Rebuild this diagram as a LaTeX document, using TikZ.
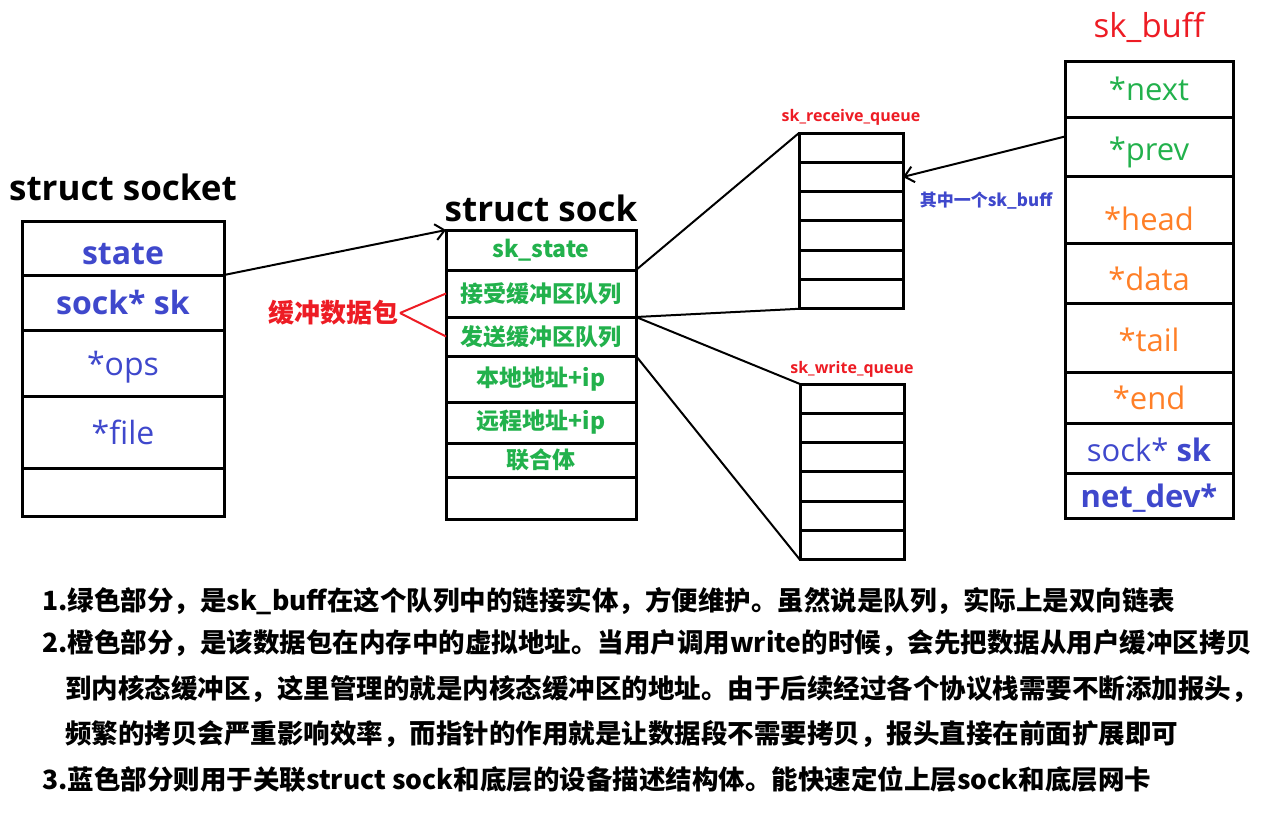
\documentclass[tikz,border=0pt]{standalone}
\usepackage{fontspec}
\setmainfont{Noto Sans CJK SC}
\newfontfamily\latinfont{Open Sans}
\usetikzlibrary{positioning, arrows.meta}
\definecolor{PaintBlue}{RGB}{63, 72, 204}
\definecolor{PaintGreen}{RGB}{34, 177, 76}
\definecolor{PaintOrange}{RGB}{255, 127, 39}
\definecolor{PaintRed}{RGB}{237, 28, 36}

\begin{document}
\begin{tikzpicture}[
    x=1pt, y=-1pt,
    % Global Styles
    cell/.style={
        rectangle,
        draw=black,
        line width=3pt,
        inner sep=0pt,
        outer sep=0pt,
        align=center
    },
    socketcell/.style={cell, minimum width=202pt, text=PaintBlue, text height=29pt, text depth=5pt, font=\latinfont\fontsize{32}{38}\selectfont},
    sockcell/.style={cell, minimum width=190pt, text=PaintGreen, font=\bfseries\fontsize{23}{28}\selectfont},
    queuecell/.style={cell, minimum width=104pt, minimum height=29.3pt},
    buffcell/.style={cell, minimum width=168pt, text height=28pt, text depth=5pt, font=\latinfont\fontsize{31}{36}\selectfont},
    sink/.style={text height=28pt+#1},
    title/.style={font=\latinfont\bfseries\fontsize{35}{40}\selectfont, inner sep=0pt},
    qlabel/.style={text=PaintRed, font=\latinfont\bfseries\fontsize{16}{19}\selectfont, inner sep=0pt},
    link/.style={-{Straight Barb[length=9pt, width=16pt]}, line width=2pt},
    wire/.style={line width=2pt},
    redwire/.style={line width=2pt, draw=PaintRed},
    note/.style={anchor=west, inner sep=0pt, font=\bfseries\fontsize{26.5}{30}\selectfont}
]
    \useasboundingbox (0,0) rectangle (1285,822);

    % --- struct socket ---
    \node[socketcell, minimum height=54pt, sink=10pt, anchor=north west] (state) at (22,221) {\bfseries state};
    \node[socketcell, minimum height=55pt, below=0pt of state] (socksk) {\bfseries sock* sk};
    \node[socketcell, minimum height=66pt, below=0pt of socksk] (ops) {*ops};
    \node[socketcell, minimum height=72pt, below=0pt of ops] (file) {*file};
    \node[socketcell, minimum height=48pt, below=0pt of file] (socketend) {};
    \node[title, above=20pt of state] (sockettitle) {struct socket};

    % --- struct sock ---
    \node[sockcell, minimum height=40pt, anchor=north west] (skstate) at (446,230) {sk\_state};
    \node[sockcell, minimum height=47pt, below=0pt of skstate] (recv) {接受缓冲区队列};
    \node[sockcell, minimum height=39pt, below=0pt of recv] (send) {发送缓冲区队列};
    \node[sockcell, minimum height=46pt, below=0pt of send] (local) {本地地址+ip};
    \node[sockcell, minimum height=41pt, below=0pt of local] (remote) {远程地址+ip};
    \node[sockcell, minimum height=34pt, below=0pt of remote] (union) {联合体};
    \node[sockcell, minimum height=42pt, below=0pt of union] (sockend) {};
    \node[title, above=8pt of skstate] (socktitle) {struct sock};

    % --- queues ---
    \node[queuecell, anchor=north west] (rq1) at (799,133) {};
    \node[queuecell, anchor=north west] (wq1) at (800,384) {};
    \foreach \i/\j in {1/2, 2/3, 3/4, 4/5, 5/6} {
        \node[queuecell, below=0pt of rq\i] (rq\j) {};
        \node[queuecell, below=0pt of wq\i] (wq\j) {};
    }
    \node[qlabel, above=7pt of rq1] (rqlabel) {sk\_receive\_queue};
    \node[qlabel, above=6pt of wq1] (wqlabel) {sk\_write\_queue};

    % --- sk_buff ---
    \node[buffcell, minimum height=56pt, text=PaintGreen, anchor=north west] (next) at (1065,61) {*next};
    \node[buffcell, minimum height=59pt, text=PaintGreen, sink=4pt, below=0pt of next] (prev) {*prev};
    \node[buffcell, minimum height=67pt, text=PaintOrange, sink=18pt, below=0pt of prev] (head) {*head};
    \node[buffcell, minimum height=60pt, text=PaintOrange, sink=12pt, below=0pt of head] (data) {*data};
    \node[buffcell, minimum height=69pt, text=PaintOrange, sink=4pt, below=0pt of data] (tail) {*tail};
    \node[buffcell, minimum height=51pt, text=PaintOrange, below=0pt of tail] (end) {*end};
    \node[buffcell, minimum height=50pt, text=PaintBlue, sink=4pt, below=0pt of end] (buffsk) {sock* \textbf{sk}};
    \node[buffcell, minimum height=45pt, text=PaintBlue, below=0pt of buffsk] (netdev) {\bfseries net\_dev*};
    \node[title, text=PaintRed, font=\latinfont\fontsize{33}{38}\selectfont, above=18pt of next] (bufftitle) {sk\_buff};

    % --- labels ---
    \node[text=PaintRed, font=\bfseries\fontsize{26}{30}\selectfont, inner sep=1pt, anchor=east] (packet) at (400,313) {缓冲数据包};
    \node[text=PaintBlue, font=\bfseries\fontsize{17}{20}\selectfont, inner sep=0pt] (onebuff) at (986,201) {其中一个sk\_buff};

    % --- connections ---
    \draw[link] (state.south east) -- (skstate.north west);
    \draw[link] ([yshift=10pt]prev.west) -- (rq2.east);
    \draw[redwire] (packet.east) -- (recv.west);
    \draw[redwire] (packet.east) -- (send.west);
    \draw[wire] (skstate.south east) -- (rq1.north west);
    \draw[wire] (recv.south east) -- (rq6.south west);
    \draw[wire] (recv.south east) -- (wq1.north west);
    \draw[wire] (send.south east) -- (wq6.south west);

    % --- notes ---
    \node[note] (note1) at (42,601) {1.绿色部分，是sk\_buff在这个队列中的链接实体，方便维护。虽然说是队列，实际上是双向链表};
    \node[note] (note2) at (42,643) {2.橙色部分，是该数据包在内存中的虚拟地址。当用户调用write的时候，会先把数据从用户缓冲区拷贝};
    \node[note] (note3) at (65,689) {到内核态缓冲区，这里管理的就是内核态缓冲区的地址。由于后续经过各个协议栈需要不断添加报头，};
    \node[note] (note4) at (65,734) {频繁的拷贝会严重影响效率，而指针的作用就是让数据段不需要拷贝，报头直接在前面扩展即可};
    \node[note] (note5) at (42,779) {3.蓝色部分则用于关联struct sock和底层的设备描述结构体。能快速定位上层sock和底层网卡};

\end{tikzpicture}
\end{document}
